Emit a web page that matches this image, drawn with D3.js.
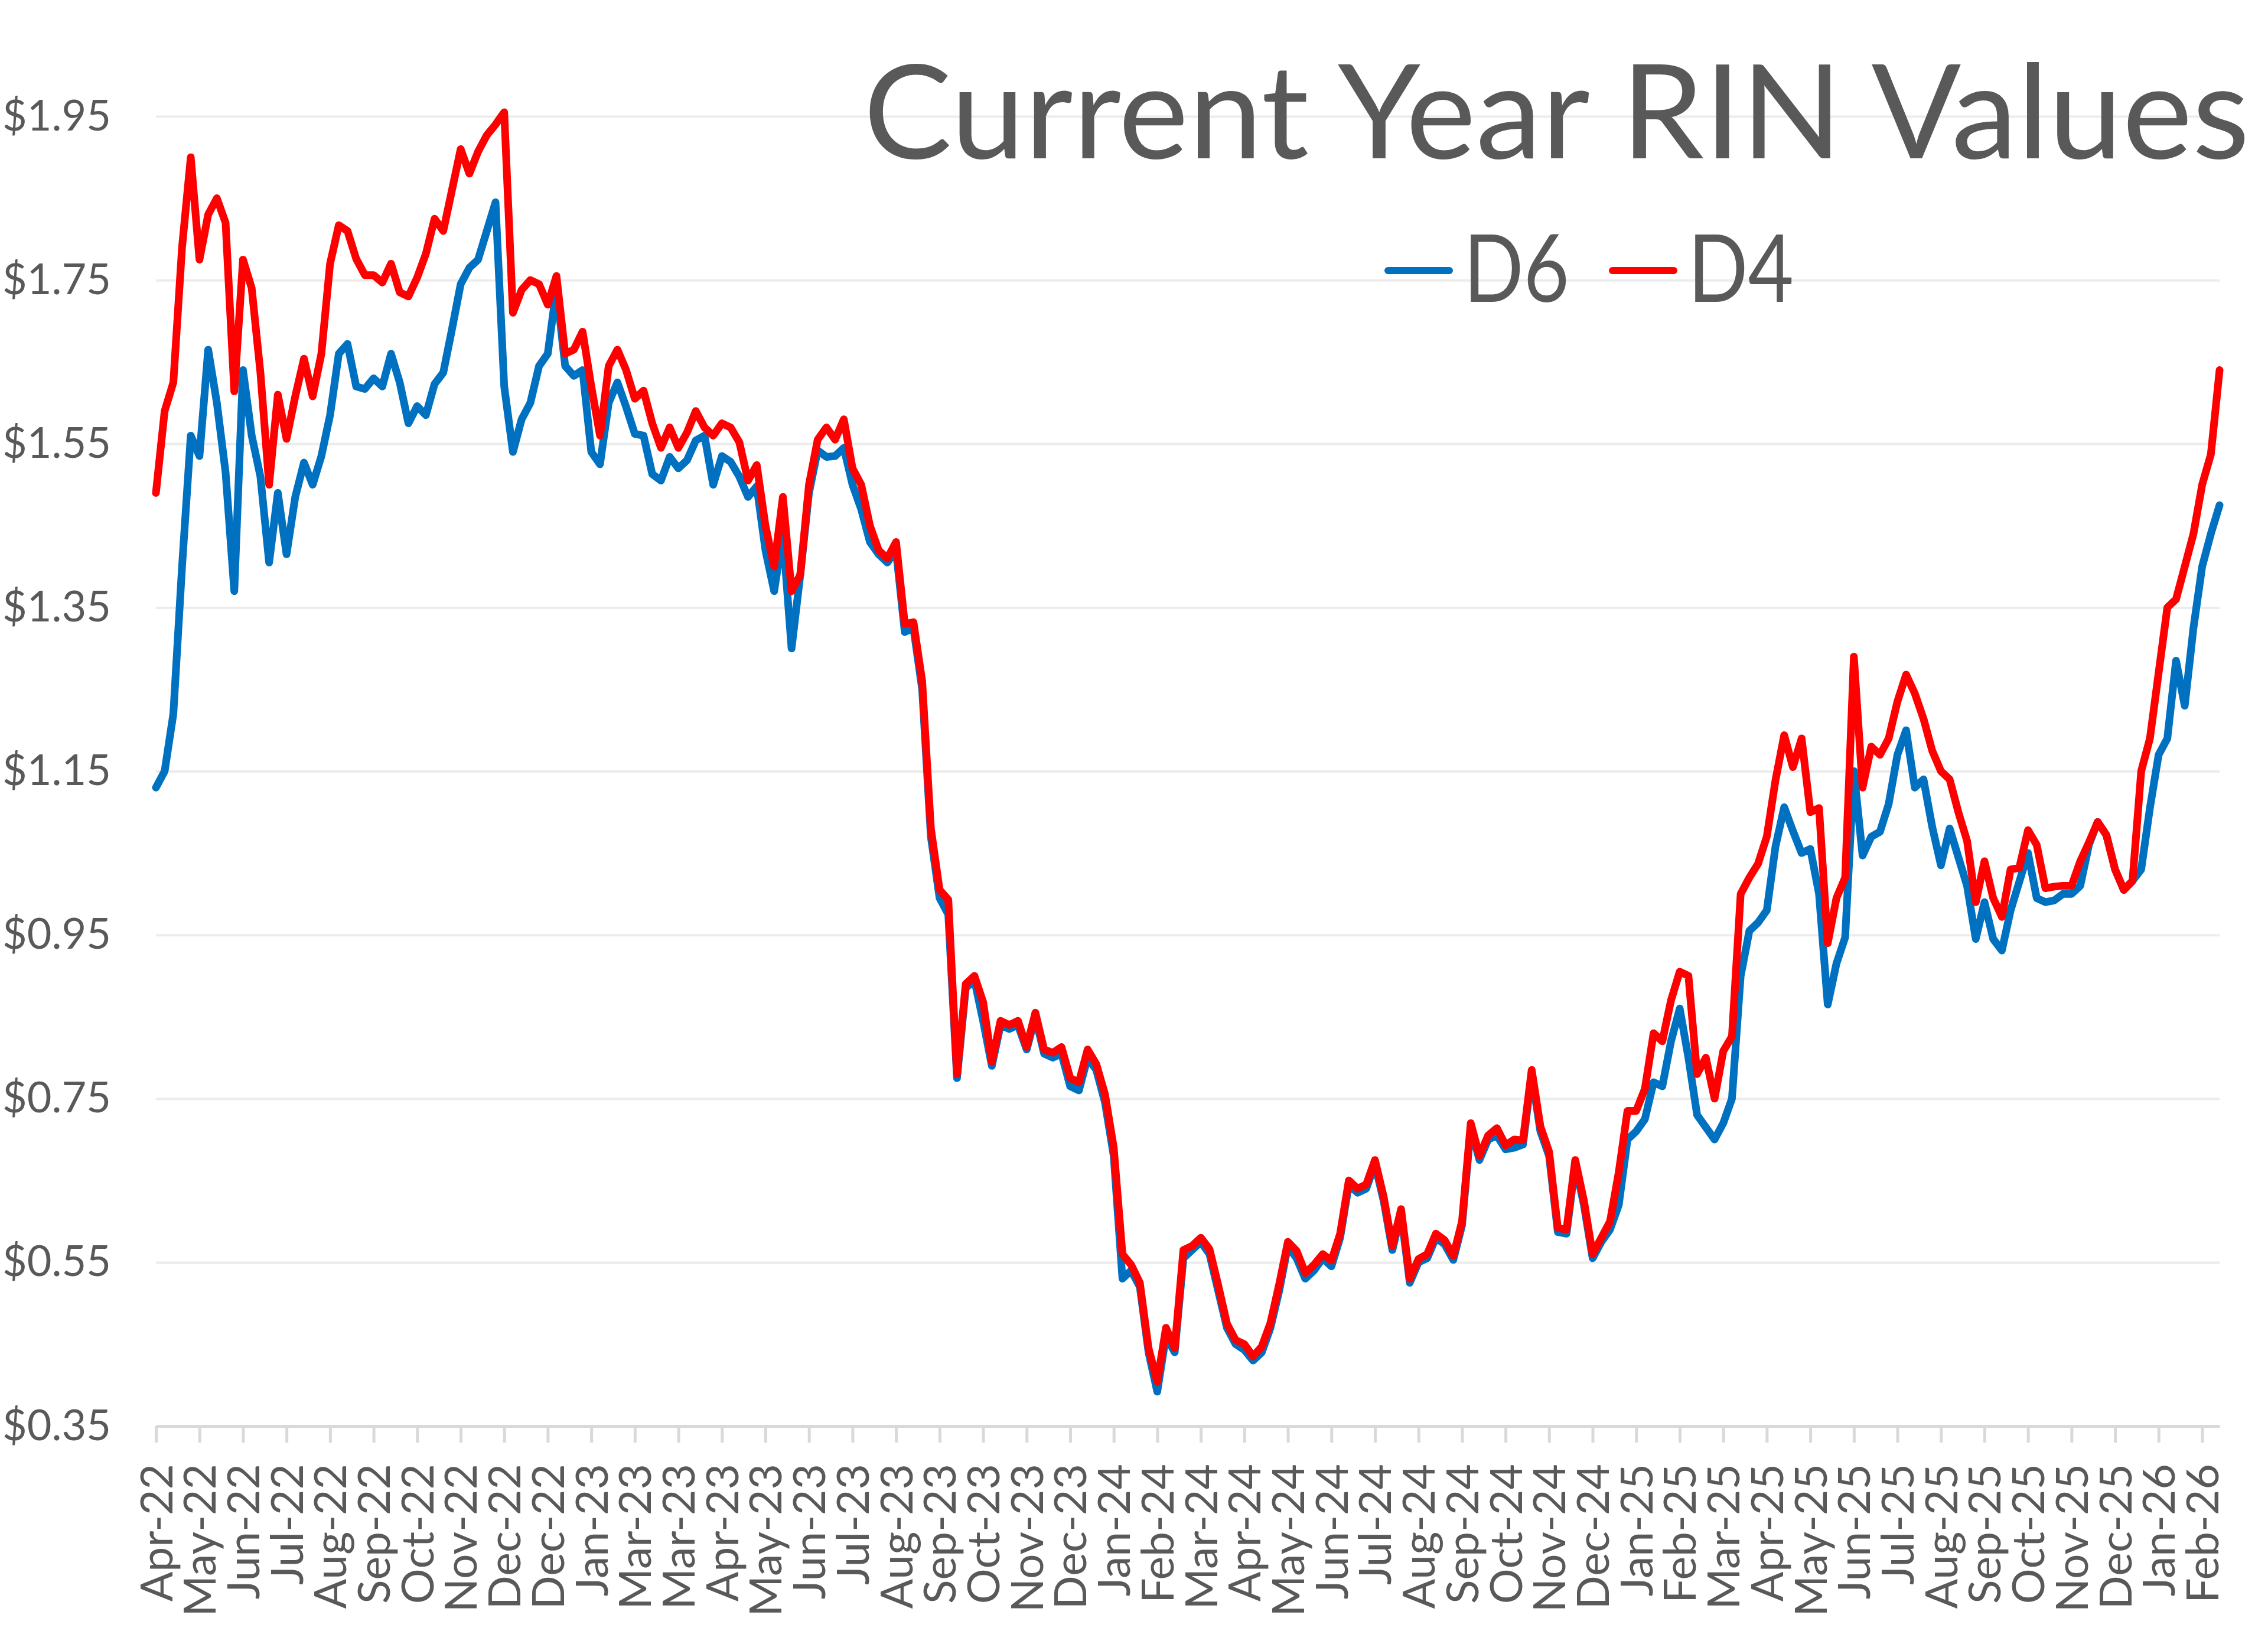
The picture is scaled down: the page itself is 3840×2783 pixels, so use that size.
<!DOCTYPE html>
<html>
<head>
<meta charset="utf-8">
<script src="https://cdn.jsdelivr.net/npm/d3@7"></script>
<style>
  body { margin: 0; background: #fff; }
  text { font-family: Lato, "Open Sans", sans-serif; fill: #595959; }
</style>
</head>
<body>
<div id="chart"></div>
<script>
// month labels on the category axis (one every ~21 trading days, as in the source sheet)
let labels = ["Apr-22", "May-22", "Jun-22", "Jul-22", "Aug-22", "Sep-22", "Oct-22", "Nov-22", "Dec-22", "Dec-22",
    "Jan-23", "Mar-23", "Mar-23", "Apr-23", "May-23", "Jun-23", "Jul-23", "Aug-23", "Sep-23", "Oct-23", "Nov-23", "Dec-23",
    "Jan-24", "Feb-24", "Mar-24", "Apr-24", "May-24", "Jun-24", "Jul-24", "Aug-24", "Sep-24", "Oct-24", "Nov-24", "Dec-24",
    "Jan-25", "Feb-25", "Mar-25", "Apr-25", "May-25", "Jun-25", "Jul-25", "Aug-25", "Sep-25", "Oct-25", "Nov-25", "Dec-25",
    "Jan-26", "Feb-26"];

let yTicks = [0.35, 0.55, 0.75, 0.95, 1.15, 1.35, 1.55, 1.75, 1.95];

// five readings per label interval, one row per label
let d6 = [
    1.13, 1.15, 1.22, 1.40, 1.56,
    1.535, 1.665, 1.60, 1.515, 1.37,
    1.64, 1.56, 1.51, 1.405, 1.49,
    1.415, 1.485, 1.527, 1.50, 1.535,
    1.585, 1.66, 1.672, 1.62, 1.617,
    1.63, 1.62, 1.66, 1.625, 1.575,
    1.596, 1.585, 1.623, 1.637, 1.69,
    1.745, 1.765, 1.775, 1.81, 1.845,
    1.62, 1.54, 1.58, 1.60, 1.645,
    1.66, 1.74, 1.645, 1.633, 1.64,
    1.54, 1.525, 1.60, 1.625, 1.595,
    1.562, 1.56, 1.513, 1.505, 1.534,
    1.52, 1.53, 1.554, 1.56, 1.50,
    1.535, 1.528, 1.51, 1.485, 1.498,
    1.42, 1.37, 1.44, 1.30, 1.39,
    1.49, 1.542, 1.534, 1.535, 1.545,
    1.50, 1.47, 1.43, 1.415, 1.405,
    1.42, 1.32, 1.325, 1.25, 1.07,
    0.995, 0.975, 0.775, 0.885, 0.895,
    0.845, 0.79, 0.84, 0.835, 0.84,
    0.81, 0.85, 0.805, 0.80, 0.805,
    0.765, 0.76, 0.80, 0.785, 0.745,
    0.68, 0.53, 0.54, 0.52, 0.44,
    0.392, 0.46, 0.44, 0.555, 0.565,
    0.575, 0.56, 0.515, 0.47, 0.45,
    0.443, 0.43, 0.44, 0.47, 0.515,
    0.57, 0.555, 0.53, 0.54, 0.555,
    0.545, 0.58, 0.645, 0.635, 0.64,
    0.67, 0.625, 0.565, 0.61, 0.525,
    0.55, 0.555, 0.58, 0.572, 0.553,
    0.595, 0.715, 0.675, 0.70, 0.705,
    0.688, 0.69, 0.694, 0.78, 0.71,
    0.68, 0.587, 0.585, 0.67, 0.62,
    0.555, 0.575, 0.59, 0.62, 0.70,
    0.71, 0.725, 0.77, 0.765, 0.82,
    0.86, 0.80, 0.73, 0.715, 0.70,
    0.72, 0.75, 0.90, 0.955, 0.965,
    0.98, 1.058, 1.106, 1.077, 1.05,
    1.055, 1.00, 0.865, 0.915, 0.947,
    1.15, 1.047, 1.07, 1.076, 1.11,
    1.17, 1.20, 1.13, 1.14, 1.082,
    1.035, 1.08, 1.045, 1.01, 0.945,
    0.99, 0.945, 0.931, 0.98, 1.015,
    1.05, 0.995, 0.99, 0.992, 1.00,
    1.00, 1.01, 1.06, 1.088, 1.072,
    1.03, 1.005, 1.016, 1.03, 1.105,
    1.17, 1.19, 1.285, 1.23, 1.325,
    1.40, 1.44, 1.475
];

let d4 = [
    1.49, 1.59, 1.625, 1.79, 1.90,
    1.775, 1.83, 1.85, 1.82, 1.614,
    1.775, 1.74, 1.637, 1.50, 1.61,
    1.556, 1.608, 1.654, 1.608, 1.66,
    1.77, 1.817, 1.81, 1.776, 1.756,
    1.756, 1.747, 1.77, 1.735, 1.73,
    1.753, 1.782, 1.825, 1.81, 1.86,
    1.91, 1.88, 1.907, 1.927, 1.94,
    1.955, 1.71, 1.738, 1.75, 1.745,
    1.72, 1.755, 1.66, 1.665, 1.687,
    1.62, 1.56, 1.645, 1.665, 1.64,
    1.605, 1.615, 1.575, 1.545, 1.57,
    1.545, 1.564, 1.59, 1.57, 1.56,
    1.575, 1.57, 1.552, 1.505, 1.524,
    1.45, 1.40, 1.485, 1.37, 1.39,
    1.50, 1.555, 1.57, 1.555, 1.58,
    1.52, 1.50, 1.45, 1.42, 1.41,
    1.43, 1.33, 1.332, 1.26, 1.08,
    1.005, 0.993, 0.78, 0.89, 0.90,
    0.868, 0.795, 0.845, 0.84, 0.845,
    0.813, 0.855, 0.81, 0.806, 0.813,
    0.775, 0.77, 0.81, 0.792, 0.755,
    0.69, 0.56, 0.547, 0.525, 0.445,
    0.404, 0.47, 0.445, 0.565, 0.57,
    0.58, 0.566, 0.522, 0.475, 0.455,
    0.45, 0.435, 0.447, 0.476, 0.523,
    0.575, 0.564, 0.537, 0.547, 0.56,
    0.552, 0.585, 0.65, 0.64, 0.645,
    0.675, 0.63, 0.57, 0.615, 0.53,
    0.554, 0.56, 0.585, 0.577, 0.558,
    0.60, 0.72, 0.68, 0.705, 0.714,
    0.693, 0.70, 0.699, 0.785, 0.716,
    0.685, 0.592, 0.59, 0.675, 0.625,
    0.56, 0.58, 0.60, 0.66, 0.735,
    0.735, 0.762, 0.83, 0.82, 0.87,
    0.905, 0.90, 0.78, 0.80, 0.75,
    0.808, 0.826, 1.00, 1.02, 1.037,
    1.07, 1.139, 1.194, 1.155, 1.19,
    1.10, 1.105, 0.94, 0.995, 1.02,
    1.29, 1.13, 1.18, 1.17, 1.19,
    1.235, 1.268, 1.245, 1.214, 1.175,
    1.15, 1.14, 1.10, 1.065, 0.99,
    1.04, 0.995, 0.972, 1.03, 1.032,
    1.078, 1.06, 1.007, 1.009, 1.01,
    1.01, 1.04, 1.063, 1.088, 1.072,
    1.03, 1.005, 1.016, 1.15, 1.19,
    1.27, 1.35, 1.36, 1.40, 1.44,
    1.50, 1.537, 1.64
];

let step = 1 / 5;

let W = 3840, H = 2783;
let margin = { top: 197, right: 82, bottom: 369, left: 264 },
    width = W - margin.left - margin.right,
    height = H - margin.top - margin.bottom;

let svg = d3.select("#chart")
    .append("svg")
    .attr("width", W)
    .attr("height", H)
    .style("display", "block");

svg.append("rect").attr("width", W).attr("height", H).attr("fill", "#fff");

let g = svg.append("g")
    .attr("transform", "translate(" + margin.left + "," + margin.top + ")");

let x = d3.scaleLinear()
    .domain([0, (d4.length - 1) * step])
    .range([0, width]);

let y = d3.scaleLinear()
    .domain([0.35, 1.95])
    .range([height, 0]);

// gridlines + dollar labels
let yAxis = g.append("g")
    .call(d3.axisLeft(y)
        .tickValues(yTicks)
        .tickSize(-width)
        .tickPadding(76)
        .tickFormat(d => "$" + d3.format(".2f")(d)));
yAxis.select(".domain").remove();
yAxis.selectAll("line")
    .attr("stroke", "#ececec")
    .attr("stroke-width", 4);
yAxis.selectAll("text")
    .style("font-size", "72px")
    .attr("fill", "#595959");

// category axis with rotated labels
let xAxis = g.append("g")
    .attr("transform", "translate(0," + height + ")")
    .call(d3.axisBottom(x)
        .tickValues(d3.range(labels.length))
        .tickSize(28)
        .tickSizeOuter(0)
        .tickFormat(i => labels[i]));
xAxis.select(".domain")
    .attr("stroke", "#d9d9d9")
    .attr("stroke-width", 5);
xAxis.selectAll("line")
    .attr("stroke", "#d9d9d9")
    .attr("stroke-width", 5);
xAxis.selectAll("text")
    .style("font-size", "75px")
    .attr("fill", "#595959")
    .attr("text-anchor", "end")
    .attr("transform", "rotate(-90)")
    .attr("x", -64)
    .attr("y", 0)
    .attr("dy", "0.36em");

let line = d3.line()
    .x((d, i) => x(i * step))
    .y(d => y(d));

let series = [
    { name: "D6", values: d6, color: "#0070C0" },
    { name: "D4", values: d4, color: "#FF0000" }
];

g.selectAll(".series")
    .data(series)
    .enter()
    .append("path")
    .attr("class", "series")
    .attr("d", d => line(d.values))
    .attr("fill", "none")
    .attr("stroke", d => d.color)
    .attr("stroke-width", 13)
    .attr("stroke-linejoin", "round")
    .attr("stroke-linecap", "round");

// title
svg.append("text")
    .attr("x", 1462)
    .attr("y", 268)
    .attr("textLength", 2347)
    .attr("lengthAdjust", "spacingAndGlyphs")
    .style("font-size", "221px")
    .text("Current Year RIN Values");

// legend
let legend = svg.append("g");
let legendX = [2346, 2726];
series.forEach(function (s, i) {
    legend.append("line")
        .attr("x1", legendX[i] + 4)
        .attr("x2", legendX[i] + 108)
        .attr("y1", 458)
        .attr("y2", 458)
        .attr("stroke", s.color)
        .attr("stroke-width", 12)
        .attr("stroke-linecap", "round");
    legend.append("text")
        .attr("x", legendX[i] + 132)
        .attr("y", 511)
        .attr("textLength", 179)
        .attr("lengthAdjust", "spacingAndGlyphs")
        .style("font-size", "160px")
        .text(s.name);
});
</script>
</body>
</html>
